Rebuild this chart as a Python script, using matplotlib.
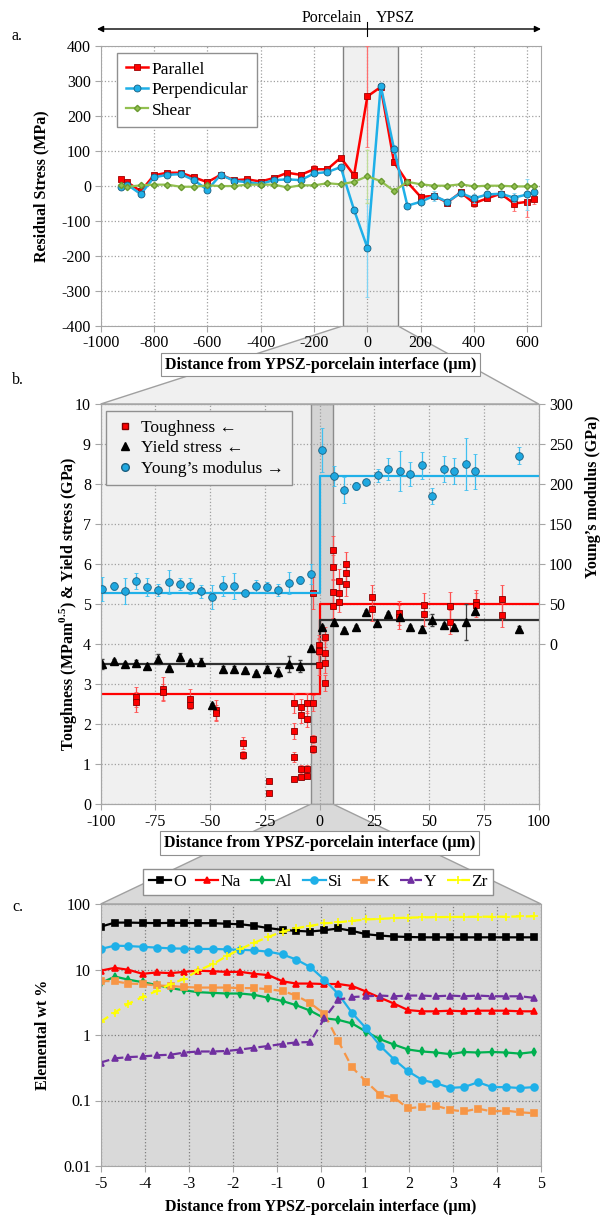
import numpy as np
import matplotlib.pyplot as plt
from matplotlib.lines import Line2D
from matplotlib.patches import Polygon

plt.rcParams['font.family'] = ['Liberation Serif', 'DejaVu Serif']
plt.rcParams['mathtext.fontset'] = 'custom'
plt.rcParams['mathtext.rm'] = 'Liberation Serif'
plt.rcParams['mathtext.bf'] = 'Liberation Serif:bold'
plt.rcParams['font.size'] = 11.5
plt.rcParams['axes.unicode_minus'] = False

# ---- panel a: residual stress ----
stress_x = [-925, -900, -850, -800, -750, -700, -650, -600, -550, -500, -450, -400, -350,
            -300, -250, -200, -150, -100, -50, 0, 50, 100, 150, 200, 250, 300, 350, 400,
            450, 500, 550, 600, 625]
parallel = [18, 10, -16, 30, 37, 37, 24, 10, 31, 16, 18, 12, 22, 37, 31, 47, 47, 80, 30,
            255, 282, 67, 10, -32, -29, -48, -19, -50, -36, -23, -51, -46, -38]
parallel_err = [4, 4, 4, 4, 4, 4, 4, 4, 4, 4, 4, 4, 4, 4, 4, 12, 4, 6, 4, 145, 5, 5, 6, 6,
                5, 10, 6, 12, 6, 8, 20, 42, 15]
perpendicular = [-5, 3, -24, 24, 31, 33, 16, -12, 31, 14, 10, 5, 16, 18, 16, 35, 39, 53, -69,
                 -177, 286, 105, -57, -46, -29, -46, -21, -36, -25, -23, -34, -25, -19]
perpendicular_err = [4, 4, 4, 4, 4, 4, 4, 4, 4, 4, 4, 4, 4, 4, 4, 6, 4, 4, 4, 140, 8, 12, 6,
                     6, 15, 5, 6, 12, 6, 5, 12, 45, 8]
shear = [1, -3, 1, 3, 3, -3, -3, 1, -1, -1, 3, 3, 3, -5, 1, 1, 7, 4, 11, 27, 13, -15, 11, 4,
         0, 0, 4, -2, 0, 0, -2, -2, 0]
shear_err = [3] * 19 + [75] + [3] * 13

# ---- panel b: nanoindentation ----
young_x = [-99.3, -94.1, -89, -84, -79, -74, -69, -64, -59, -54, -49, -44, -39, -34, -29,
           -24, -19, -14, -9, -4.2, 1.1, 6.5, 11.1, 16.4, 21.1, 26.5, 31.2, 36.5, 41.2, 46.7,
           51.1, 56.9, 61.1, 66.7, 71.1, 91.2]
young_E = [69, 72.5, 66, 79, 71, 67.5, 78, 75, 72, 66, 59, 72.5, 72.5, 64, 72.5, 71, 67.5,
           76, 80, 87.5, 242.5, 210, 192.5, 197.5, 202.5, 211, 219, 216.5, 212.5, 223.5, 185,
           218.5, 216, 225, 216, 235.5]
young_err = [15, 5, 16, 10, 11, 8, 15, 7, 10, 8, 15, 12, 16, 3, 8, 6, 8, 14, 5, 12,
             27, 12.5, 16, 5.5, 3, 8, 14, 25, 15, 17, 10, 16, 16, 32, 22, 11]

tough_x = [-84.1, -84.1, -71.6, -71.6, -59.4, -59.4, -47.2, -47.2, -35.1, -35.1, -23.2,
           -23.2, -11.7, -11.7, -11.7, -11.7, -8.6, -8.6, -8.6, -8.6, -5.9, -5.9, -5.9, -5.9,
           -3.2, -3.2, -3.2, -3.2, -0.1, -0.1, -0.1, -0.1, 2.6, 2.6, 2.6, 2.6, 6.0, 6.0, 6.0,
           6.0, 8.7, 8.7, 8.7, 12.0, 12.0, 12.0, 24.0, 24.0, 36.0, 36.0, 47.7, 47.7, 59.6,
           59.6, 71.4, 71.4, 83.4, 83.4]
tough_v = [2.68, 2.55, 2.88, 2.8, 2.63, 2.47, 2.35, 2.27, 1.53, 1.23, 0.57, 0.27, 2.52, 1.83,
           1.18, 0.63, 2.43, 2.22, 0.87, 0.67, 2.52, 2.12, 0.87, 0.7, 2.52, 1.62, 1.38, 5.28,
           3.97, 3.85, 3.82, 3.47, 4.17, 3.77, 3.52, 3.02, 6.35, 5.92, 5.3, 4.95, 5.57, 5.28,
           5.05, 6.0, 5.77, 5.5, 5.17, 4.88, 4.78, 4.68, 4.98, 4.75, 4.95, 4.55, 5.05, 4.98,
           5.13, 4.72]
tough_err = [0.25, 0.25, 0.3, 0.2, 0.25, 0.1, 0.25, 0.2, 0.15, 0.1, 0.04, 0.03, 0.25, 0.2,
             0.12, 0.04, 0.2, 0.2, 0.1, 0.05, 0.25, 0.2, 0.1, 0.05, 0.2, 0.1, 0.1, 0.4, 0.25,
             0.3, 0.3, 0.25, 0.25, 0.3, 0.25, 0.2, 0.35, 0.3, 0.3, 0.3, 0.3, 0.25, 0.25, 0.3,
             0.3, 0.3, 0.3, 0.3, 0.3, 0.3, 0.3, 0.3, 0.35, 0.3, 0.3, 0.3, 0.35, 0.3]

yield_x = [-99.2, -94, -89, -84, -79, -74, -69, -64, -59, -54, -49, -44, -39, -34, -29, -24,
           -19, -14, -9, -4.2, 1.1, 6.4, 11.1, 16.4, 21.1, 26.3, 31.2, 36.5, 41.2, 46.5, 51.1,
           56.7, 61.1, 66.7, 71.1, 91.2]
yield_v = [3.5, 3.58, 3.5, 3.53, 3.45, 3.62, 3.4, 3.68, 3.55, 3.55, 2.48, 3.38, 3.37, 3.35,
           3.28, 3.38, 3.3, 3.5, 3.45, 3.9, 4.43, 4.55, 4.35, 4.42, 4.8, 4.52, 4.75, 4.68,
           4.43, 4.38, 4.6, 4.47, 4.42, 4.55, 4.83, 4.38]
yield_err = [0.12, 0.05, 0.06, 0.06, 0.05, 0.12, 0.05, 0.1, 0.06, 0.1, 0.05, 0.08, 0.08,
             0.06, 0.05, 0.08, 0.12, 0.2, 0.15, 0.05, 0.05, 0.05, 0.05, 0.05, 0.06, 0.08,
             0.05, 0.08, 0.05, 0.06, 0.15, 0.05, 0.05, 0.45, 0.06, 0.06]

# averages either side of the interface
tough_mean = [2.75, 5.0]
yield_mean = [3.5, 4.6]
young_mean = [63.5, 210]

# ---- panel c: EDS line scan ----
elem_x = [-5.0, -4.68, -4.37, -4.05, -3.73, -3.41, -3.10, -2.78, -2.46, -2.14, -1.83, -1.51,
          -1.19, -0.87, -0.56, -0.24, 0.08, 0.40, 0.71, 1.03, 1.35, 1.67, 1.98, 2.30, 2.62,
          2.94, 3.25, 3.57, 3.89, 4.21, 4.52, 4.84]
wt_O = [45, 52, 52, 51.5, 51, 51.5, 51.5, 51, 51, 50, 49, 46.5, 42.8, 40.3, 38.9, 38, 39.8,
        42.3, 38.9, 34.5, 33, 31.8, 31.4, 31, 31, 31, 31, 31, 31, 31, 31, 31]
wt_Na = [9.6, 10.6, 9.9, 8.6, 9.0, 8.8, 9.2, 9.6, 9.4, 9.2, 9.2, 8.6, 8.2, 6.6, 6.1, 6.1,
         6.0, 6.0, 5.6, 4.6, 3.7, 3.0, 2.4, 2.3, 2.3, 2.35, 2.3, 2.35, 2.35, 2.35, 2.3, 2.3]
wt_Al = [6.2, 7.8, 7.0, 6.4, 5.8, 5.2, 4.8, 4.5, 4.4, 4.3, 4.3, 4.1, 3.7, 3.3, 2.85, 2.35,
         1.8, 1.7, 1.5, 1.12, 0.86, 0.71, 0.6, 0.56, 0.54, 0.51, 0.55, 0.54, 0.55, 0.54,
         0.52, 0.55]
wt_Si = [20.6, 23.1, 22.8, 22.2, 21.6, 21, 20.8, 20.6, 20.6, 20.3, 20, 19.6, 18.7, 17, 14.2,
         10.9, 7.0, 4.2, 2.17, 1.26, 0.68, 0.42, 0.28, 0.206, 0.183, 0.156, 0.16, 0.19, 0.16,
         0.16, 0.155, 0.16]
wt_K = [6.7, 6.6, 6.1, 6.0, 5.7, 5.6, 5.4, 5.3, 5.3, 5.3, 5.2, 5.2, 5.0, 4.7, 4.0, 3.06, 2.1,
        0.8, 0.32, 0.194, 0.122, 0.11, 0.076, 0.08, 0.083, 0.072, 0.068, 0.075, 0.068, 0.07,
        0.066, 0.064]
wt_Y = [0.38, 0.44, 0.46, 0.47, 0.49, 0.5, 0.54, 0.56, 0.56, 0.57, 0.6, 0.64, 0.68, 0.73,
        0.77, 0.78, 1.8, 3.45, 3.8, 3.9, 4.0, 3.9, 4.0, 4.0, 3.9, 4.0, 3.9, 4.0, 3.9, 3.9, 3.9,
        3.7]
wt_Zr = [1.6, 2.2, 3.0, 3.8, 4.7, 6.0, 7.2, 9.7, 12, 16, 20.5, 25.7, 31.4, 38, 42.7, 46.4,
         50.5, 52.6, 55.4, 58, 59.4, 60.8, 62, 62.5, 63, 63.5, 63.5, 64, 64, 64, 64.5, 65]

xlabel = 'Distance from YPSZ-porcelain interface (µm)'

W, H = 609, 1218
fig = plt.figure(figsize=(W / 100, H / 100), dpi=100)


def rect(l, t, r, b):
    return [l / W, 1 - b / H, (r - l) / W, (b - t) / H]


bg = fig.add_axes([0, 0, 1, 1])
bg.set_xlim(0, W)
bg.set_ylim(H, 0)
bg.axis('off')


def style_axes(ax, grid_col='#a0a0a0'):
    ax.grid(True, ls=':', color=grid_col, lw=0.9)
    ax.set_axisbelow(True)
    for s in ax.spines.values():
        s.set_color('#a6a6a6')
    ax.tick_params(direction='out', length=4, color='#a6a6a6', labelsize=11.5, pad=3)


# ---------------- panel a ----------------
ax_a = fig.add_axes(rect(100.7, 45.7, 540.7, 325.7))
ax_a.axvspan(-90, 113, facecolor='#f0f0f0', edgecolor='#808080', lw=1, zorder=0)
ax_a.errorbar(stress_x, parallel, yerr=parallel_err, fmt='-s', color='#ff0000', ms=5,
              mec='#a00000', mew=0.6, lw=1.8, ecolor='#ff6f6f', elinewidth=0.9, capsize=1.5,
              label='Parallel', zorder=3)
ax_a.errorbar(stress_x, perpendicular, yerr=perpendicular_err, fmt='-o', color='#1fb0e8',
              ms=5, mec='#1a5f80', mew=0.6, lw=1.8, ecolor='#80d4f4', elinewidth=0.9,
              capsize=1.5, label='Perpendicular', zorder=4)
ax_a.errorbar(stress_x, shear, yerr=shear_err, fmt='-D', color='#92c050', ms=3.2,
              mec='#6a9a30', lw=1.6, ecolor='#c0dc98', elinewidth=0.9, capsize=1.5,
              label='Shear', zorder=5)
ax_a.set_xlim(-1000, 650)
ax_a.set_ylim(-400, 400)
ax_a.set_xticks(range(-1000, 601, 200))
ax_a.set_yticks(range(-400, 401, 100))
style_axes(ax_a)
ax_a.set_ylabel('Residual Stress (MPa)', fontweight='bold', fontsize=11.5, va='center')
ax_a.yaxis.set_label_coords(-0.135, 0.5)
ax_a.set_xlabel(xlabel, fontweight='bold', fontsize=11.5,
                bbox=dict(facecolor='white', edgecolor='#909090', lw=0.8, pad=2.5))
ax_a.xaxis.set_label_coords(0.5, -0.14)
ax_a.xaxis.label.set_va('center')
h, l = ax_a.get_legend_handles_labels()
ax_a.legend([x[0] for x in h], l, loc='upper left', bbox_to_anchor=(0.037, 0.975),
            borderaxespad=0, fontsize=12.5, frameon=True, fancybox=False,
            edgecolor='#909090', framealpha=1, handlelength=1.3, handletextpad=0.2,
            labelspacing=0.25, borderpad=0.5)

# ---------------- panel b ----------------
ax_b = fig.add_axes(rect(100.7, 404, 538.7, 804))
ax_b.set_facecolor('#f0f0f0')
ax_b.axvspan(-4, 6, facecolor='#d4d4d4', edgecolor='#8c8c8c', lw=1, zorder=0.5)
ax_b.errorbar(tough_x, tough_v, yerr=tough_err, fmt='s', color='#ff0000', ms=5,
              mec='#800000', mew=0.6, ecolor='#ff5050', elinewidth=0.9, capsize=1.5, zorder=3)
ax_b.errorbar(yield_x, yield_v, yerr=yield_err, fmt='^', color='black', ms=5.5,
              ecolor='#404040', elinewidth=0.9, capsize=1.5, zorder=3)
ax_b.plot([-100, 0, 0, 100], [tough_mean[0], tough_mean[0], tough_mean[1], tough_mean[1]],
          color='#ff0000', lw=1.6, zorder=2)
ax_b.plot([-100, 0, 0, 100], [yield_mean[0], yield_mean[0], yield_mean[1], yield_mean[1]],
          color='#303030', lw=1.6, zorder=2)
ax_b.set_xlim(-100, 100)
ax_b.set_ylim(0, 10)
ax_b.set_xticks(range(-100, 101, 25))
ax_b.set_yticks(range(0, 11))
style_axes(ax_b)
ax_b.set_ylabel(r'Toughness (MPam$^{\mathbf{0.5}}$) & Yield stress (GPa)',
                fontweight='bold', fontsize=11.5, va='center')
ax_b.yaxis.set_label_coords(-0.074, 0.5)
ax_b.set_xlabel(xlabel, fontweight='bold', fontsize=11.5,
                bbox=dict(facecolor='white', edgecolor='#909090', lw=0.8, pad=2.5))
ax_b.xaxis.set_label_coords(0.5, -0.0975)
ax_b.xaxis.label.set_va('center')

ax_b2 = ax_b.twinx()
ax_b2.errorbar(young_x, young_E, yerr=young_err, fmt='o', color='#1fa8e0', ms=5.5,
               mec='#1a5f80', mew=0.6, ecolor='#40c0f0', elinewidth=0.9, capsize=1.5,
               zorder=3)
ax_b2.plot([-100, 0, 0, 100], [young_mean[0], young_mean[0], young_mean[1], young_mean[1]],
           color='#1fb0e8', lw=1.6, zorder=2)
ax_b2.set_ylim(-200, 300)
ax_b2.set_yticks(range(0, 301, 50))
for s in ax_b2.spines.values():
    s.set_color('#a6a6a6')
ax_b2.tick_params(direction='out', length=4, color='#a6a6a6', labelsize=11.5)
ax_b2.set_ylabel('Young’s modulus (GPa)', fontweight='bold', fontsize=11.5, va='center')
ax_b2.yaxis.set_label_coords(1.124, 0.7675)
leg_b = [Line2D([], [], ls='none', marker='s', color='#ff0000', mec='#800000', ms=5),
         Line2D([], [], ls='none', marker='^', color='black', ms=5.5),
         Line2D([], [], ls='none', marker='o', color='#1fa8e0', mec='#1a5f80', ms=5.5)]
ax_b2.legend(leg_b, ['Toughness ←', 'Yield stress ←', 'Young’s modulus →'],
             loc='upper left', bbox_to_anchor=(0.012, 0.983), borderaxespad=0,
             fontsize=12.5, fancybox=False, facecolor='#f0f0f0', edgecolor='#909090',
             framealpha=1, handlelength=1.2, handletextpad=0.3, labelspacing=0.25,
             borderpad=0.5)

# ---------------- panel c ----------------
ax_c = fig.add_axes(rect(100.7, 904, 541, 1166))
ax_c.set_facecolor('#d9d9d9')
series_c = [('O', wt_O, 'black', 's', '-', 4.5),
            ('Na', wt_Na, '#ff0000', '^', '-', 5),
            ('Al', wt_Al, '#00b050', 'd', '-', 4),
            ('Si', wt_Si, '#1fb0e8', 'o', '-', 5),
            ('K', wt_K, '#f79646', 's', '--', 5),
            ('Y', wt_Y, '#7030a0', '^', '--', 5),
            ('Zr', wt_Zr, '#ffff00', '+', '--', 6)]
for name, vals, col, mk, ls, ms in series_c:
    ax_c.plot(elem_x, vals, ls=ls, color=col, marker=mk, ms=ms, lw=1.6, mew=1.2,
              label=name, dashes=(4, 2.5) if ls == '--' else (None, None))
ax_c.set_yscale('log')
ax_c.set_ylim(0.01, 100)
ax_c.set_xlim(-5, 5)
ax_c.set_xticks(range(-5, 6))
ax_c.set_yticks([0.01, 0.1, 1, 10, 100])
ax_c.set_yticklabels(['0.01', '0.1', '1', '10', '100'])
ax_c.minorticks_off()
style_axes(ax_c, grid_col='#7f7f7f')
ax_c.set_ylabel('Elemental wt %', fontweight='bold', fontsize=11.5, va='center')
ax_c.yaxis.set_label_coords(-0.13, 0.5)
ax_c.set_xlabel(xlabel, fontweight='bold', fontsize=11.5)
ax_c.xaxis.set_label_coords(0.5, -0.156)
ax_c.xaxis.label.set_va('center')
ax_c.legend(loc='center', bbox_to_anchor=(0.494, 1.084), ncol=7, fontsize=12.5,
            fancybox=False, edgecolor='#909090', framealpha=1, handlelength=1.3,
            handletextpad=0.1, columnspacing=0.6, borderpad=0.3, borderaxespad=0)


# ---------------- connectors and annotations ----------------
def to_bg(ax, x, y):
    return bg.transData.inverted().transform(ax.transData.transform((x, y)))


trap_ab = [to_bg(ax_a, -90, -400), to_bg(ax_a, 113, -400),
           to_bg(ax_b, 100, 10), to_bg(ax_b, -100, 10)]
bg.add_patch(Polygon(trap_ab, closed=True, facecolor='#f0f0f0', edgecolor='#a0a0a0', lw=1))
trap_bc = [to_bg(ax_b, -4, 0), to_bg(ax_b, 6, 0),
           to_bg(ax_c, 5, 100), to_bg(ax_c, -5, 100)]
bg.add_patch(Polygon(trap_bc, closed=True, facecolor='#d9d9d9', edgecolor='#a0a0a0', lw=1))

x0 = to_bg(ax_a, 0, 0)[0]
bg.annotate('', xy=(541, 29), xytext=(97, 29),
            arrowprops=dict(arrowstyle='<|-|>', color='black', lw=1, mutation_scale=9,
                            shrinkA=0, shrinkB=0))
bg.plot([x0, x0], [22, 36], color='black', lw=0.8)
bg.text(x0 - 6, 18, 'Porcelain', ha='right', va='center', fontsize=11.5)
bg.text(x0 + 8, 18, 'YPSZ', ha='left', va='center', fontsize=11.5)
bg.text(12, 36, 'a.', ha='left', va='center', fontsize=11.5)
bg.text(12, 380, 'b.', ha='left', va='center', fontsize=11.5)
bg.text(12, 907, 'c.', ha='left', va='center', fontsize=11.5)

fig.savefig('out.png', dpi=100)
